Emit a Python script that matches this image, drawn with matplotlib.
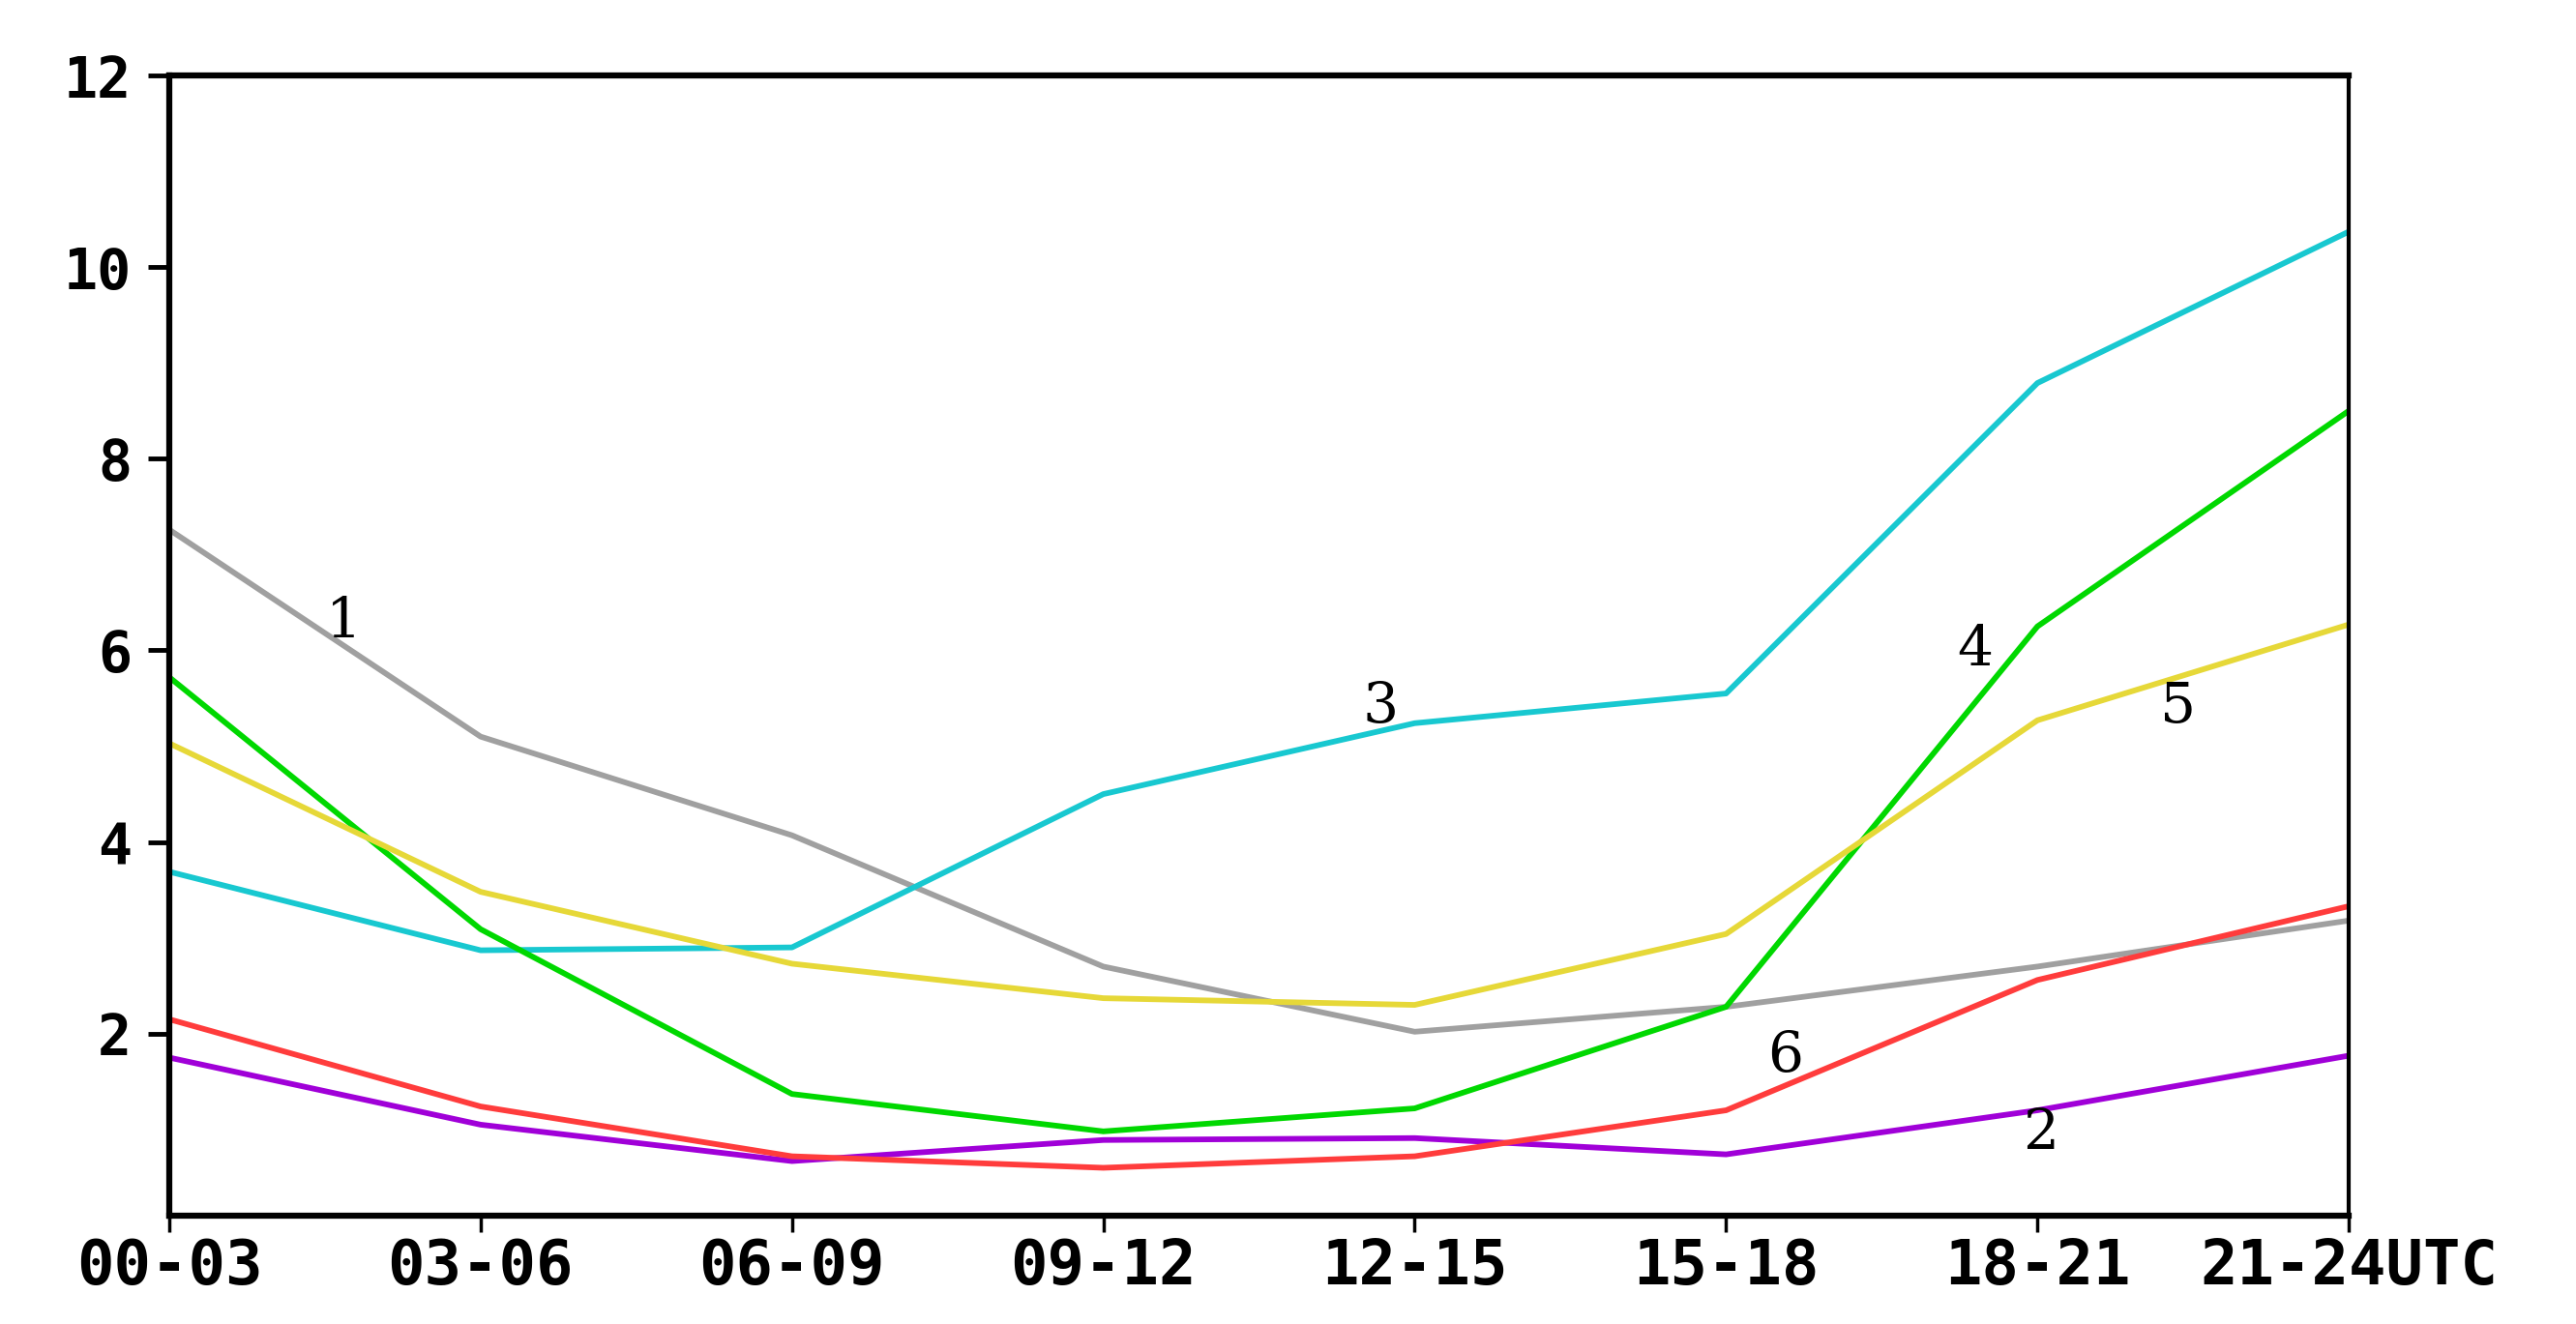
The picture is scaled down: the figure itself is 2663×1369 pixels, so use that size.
import matplotlib
matplotlib.use("Agg")
import matplotlib.pyplot as plt

# time bins (UTC)
periods = ["00-03", "03-06", "06-09", "09-12", "12-15", "15-18", "18-21", "21-24UTC"]

line1 = [7.26, 5.10, 4.07, 2.70, 2.02, 2.28, 2.70, 3.18]   # gray
line2 = [1.75, 1.05, 0.67, 0.89, 0.91, 0.74, 1.20, 1.77]   # purple
line3 = [3.69, 2.87, 2.90, 4.50, 5.24, 5.55, 8.79, 10.37]  # cyan
line4 = [5.72, 3.09, 1.37, 0.98, 1.22, 2.28, 6.25, 8.50]   # green
line5 = [5.03, 3.48, 2.73, 2.37, 2.30, 3.04, 5.27, 6.27]   # yellow
line6 = [2.15, 1.24, 0.72, 0.60, 0.72, 1.20, 2.56, 3.33]   # red

series = [line1, line2, line3, line4, line5, line6]
colors = ["#a0a0a0", "#a000d8", "#18c8d0", "#00d800", "#e6d838", "#ff3c3c"]
names = ["1", "2", "3", "4", "5", "6"]
# where the curve numbers sit (x index, y value)
label_x = [0.56, 6.01, 3.89, 5.80, 6.45, 5.19]
label_y = [6.30, 0.96, 5.41, 6.00, 5.41, 1.77]

fig = plt.figure(figsize=(26.63, 13.69), dpi=100)
ax = fig.add_axes([0.0657, 0.0818, 0.8461, 0.8612])

x = list(range(len(periods)))
for vals, c in zip(series, colors):
    ax.plot(x, vals, color=c, linewidth=4.2)

for n, lx, ly in zip(names, label_x, label_y):
    ax.text(lx, ly, n, fontsize=42, family="DejaVu Serif", ha="center", va="center")

ax.set_xlim(0, 7)
ax.set_ylim(0.1, 12)
ax.set_xticks(x)
ax.set_xticklabels(periods)
ax.set_yticks([2, 4, 6, 8, 10, 12])

for lab in ax.get_xticklabels():
    lab.set_fontfamily("DejaVu Sans Mono")
    lab.set_fontweight("bold")
    lab.set_fontsize(46)
for lab in ax.get_yticklabels():
    lab.set_fontfamily("DejaVu Sans Mono")
    lab.set_fontweight("bold")
    lab.set_fontsize(42)

ax.tick_params(axis="y", length=16, width=3.5, pad=12)
ax.tick_params(axis="x", length=12, width=2.5, pad=4)

for side in ["left", "bottom", "top"]:
    ax.spines[side].set_linewidth(4.5)
ax.spines["right"].set_linewidth(3)

fig.savefig("out.png", dpi=100)
